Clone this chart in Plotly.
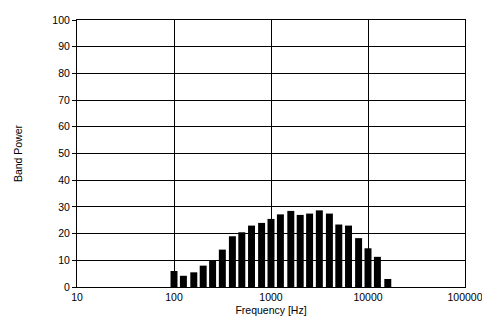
import math
import plotly.graph_objects as go

freqs = [100, 125, 160, 200, 250, 315, 400, 500, 630, 800, 1000, 1250, 1600,
         2000, 2500, 3150, 4000, 5000, 6300, 8000, 10000, 12500, 16000]
band_power = [6, 4.2, 5.5, 8, 10, 14, 19, 20.5, 23, 24, 25.5, 27.2, 28.5,
              27, 27.5, 28.7, 27.5, 23.4, 23, 18.3, 14.5, 11.3, 3]
x_tickvals = [10, 100, 1000, 10000, 100000]
x_ticktext = ["10", "100", "1000", "10000", "100000"]
y_tickvals = [0, 10, 20, 30, 40, 50, 60, 70, 80, 90, 100]

# logarithmic frequency scale (decades), bars of equal width per third-octave band
log_f = [math.log10(f) for f in freqs]
log_ticks = [math.log10(v) for v in x_tickvals]

fig = go.Figure(go.Bar(x=log_f, y=band_power, width=0.072,
                       marker=dict(color="black", line=dict(width=0)),
                       hovertext=[str(f) for f in freqs]))

font = dict(family="Liberation Sans, Arial, sans-serif", size=10.5, color="black")

# page body has an 8px default margin, so the figure is sized to fit inside it
fig.update_layout(
    width=482, height=313,
    margin=dict(l=69, r=25, t=6, b=34),
    paper_bgcolor="white", plot_bgcolor="white",
    showlegend=False,
    font=font,
)
fig.update_xaxes(
    range=[1, 5],
    tickvals=log_ticks, ticktext=x_ticktext,
    showgrid=True, gridcolor="black", gridwidth=1,
    showline=True, linecolor="black", linewidth=1, mirror=True,
    ticks="", zeroline=False, ticklabeloverflow="allow",
    title=dict(text="Frequency [Hz]", font=font, standoff=5),
)
fig.update_yaxes(
    range=[0, 100], tickvals=y_tickvals,
    showgrid=True, gridcolor="black", gridwidth=1,
    showline=True, linecolor="black", linewidth=1, mirror=True,
    ticks="outside", ticklen=4, tickcolor="black",
    zeroline=False, ticklabeloverflow="allow",
    title=dict(text="Band Power", font=font, standoff=27),
)

fig.write_html("out.html")
